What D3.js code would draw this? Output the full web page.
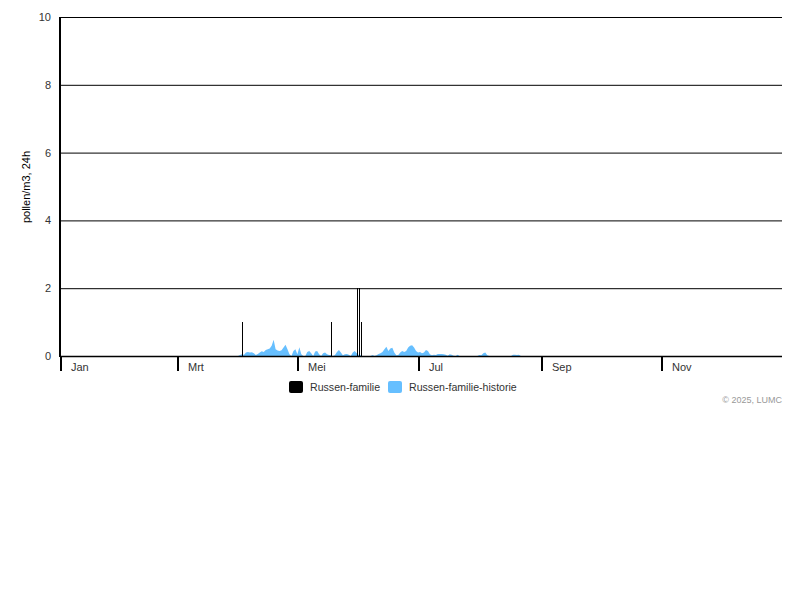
<!DOCTYPE html>
<html><head><meta charset="utf-8">
<script src="https://cdn.jsdelivr.net/npm/d3@7"></script>
<style>body{margin:0;background:#fff;font-family:"Liberation Sans",Arial,sans-serif;}</style>
</head><body><svg id="c" width="800" height="600"></svg>
<script>
const yTicks = [0, 2, 4, 6, 8, 10];
const monthLabels = ["Jan", "Mrt", "Mei", "Jul", "Sep", "Nov"];
const monthTickDates = ["2025-01-01", "2025-03-01", "2025-05-01", "2025-07-01", "2025-09-01", "2025-11-01"];
const seriesNames = ["Russen-familie", "Russen-familie-historie"];
const seriesColors = ["#000000", "#66bfff"];
// current season (daily counts)
const currentDates = ["2025-04-02", "2025-05-17", "2025-05-30", "2025-05-31", "2025-06-01"];
const currentValues = [1, 1, 2, 2, 1];
// historical average, daily values starting at historyStart
const historyStart = "2025-03-30";
const historyValues = [
 0, 0, 0.03, 0.05, 0.04, 0.1, 0.12, 0.1, 0.11, 0.08,
 0.03, 0.06, 0.1, 0.14, 0.12, 0.18, 0.2, 0.22, 0.3, 0.48,
 0.2, 0.16, 0.15, 0.17, 0.25, 0.33, 0.2, 0.05, 0, 0.15,
 0.2, 0.05, 0.26, 0.05, 0, 0, 0.12, 0.15, 0.08, 0,
 0.13, 0.15, 0.05, 0, 0.08, 0.1, 0.05, 0.03, 0.03, 0,
 0.03, 0.12, 0.18, 0.1, 0.02, 0.05, 0.06, 0.04, 0, 0.1,
 0.15, 0.08, 0.03, 0.02, 0, 0, 0, 0, 0, 0.03,
 0, 0.02, 0.06, 0.08, 0.12, 0.2, 0.27, 0.15, 0.22, 0.24,
 0.1, 0.02, 0.03, 0.1, 0.15, 0.12, 0.15, 0.25, 0.3, 0.32,
 0.25, 0.15, 0.1, 0.12, 0.08, 0.1, 0.18, 0.15, 0.05, 0.02,
 0.04, 0.03, 0.06, 0.06, 0.06, 0.05, 0.04, 0.01, 0.05, 0.04,
 0.01, 0, 0.04, 0, 0, 0, 0, 0, 0, 0,
 0, 0, 0, 0.03, 0.02, 0.08, 0.1, 0.02, 0, 0,
 0, 0, 0, 0, 0, 0, 0, 0, 0, 0,
 0.04, 0.04, 0.03, 0.04, 0, 0
];

const svg = d3.select("#c");
const parse = d3.utcParse("%Y-%m-%d");
const day = 864e5;
const x = d3.scaleUtc().domain([parse("2025-01-01"), parse("2026-01-01")]).range([61, 783]);
const y = d3.scaleLinear().domain([0, 10]).range([356, 17]);
const mid = d => new Date(d.getTime() + day / 2);

// gridlines
svg.append("g").selectAll("line").data(yTicks.filter(t => t > 0)).join("line")
  .attr("x1", 60).attr("x2", 782).attr("y1", d => y(d) + 0.5).attr("y2", d => y(d) + 0.5)
  .attr("stroke", "#000").attr("stroke-width", 1);

// y axis labels
svg.append("g").selectAll("text").data(yTicks).join("text")
  .attr("x", 51).attr("y", d => y(d) + 4).attr("text-anchor", "end")
  .attr("font-size", 11).attr("fill", "#333").text(d => d);

svg.append("text").attr("transform", "translate(30,187) rotate(-90)")
  .attr("text-anchor", "middle").attr("font-size", 11).attr("fill", "#000").text("pollen/m3, 24h");

// history area
const hStart = parse(historyStart);
const hist = historyValues.map((v, i) => ({ d: new Date(hStart.getTime() + i * day), v }));
svg.append("path").datum(hist)
  .attr("d", d3.area().x(d => x(mid(d.d))).y0(y(0)).y1(d => y(d.v)))
  .attr("fill", seriesColors[1]);

// current bars
const cur = currentDates.map((d, i) => ({ d: parse(d), v: currentValues[i] }));
svg.append("g").attr("shape-rendering", "crispEdges").selectAll("rect").data(cur).join("rect")
  .attr("x", d => Math.round(x(mid(d.d)))).attr("width", 1)
  .attr("y", d => y(d.v)).attr("height", d => y(0) - y(d.v))
  .attr("fill", seriesColors[0]);

// axes lines
svg.append("line").attr("x1", 60).attr("x2", 60).attr("y1", 17).attr("y2", 357)
  .attr("stroke", "#000").attr("stroke-width", 2);
svg.append("line").attr("x1", 60).attr("x2", 782).attr("y1", 356.5).attr("y2", 356.5)
  .attr("stroke", "#000").attr("stroke-width", 1.5);

// month ticks
const mt = svg.append("g").selectAll("g").data(monthTickDates).join("g")
  .attr("transform", d => `translate(${Math.round(x(parse(d)))},0)`);
mt.append("line").attr("x1", 0).attr("x2", 0).attr("y1", 356).attr("y2", 371)
  .attr("stroke", "#000").attr("stroke-width", 2);
mt.append("text").attr("x", 10).attr("y", 371).attr("font-size", 11).attr("fill", "#333")
  .text((d, i) => monthLabels[i]);

// legend
const lg = svg.append("g");
const lx = [289, 388];
seriesNames.forEach((n, i) => {
  lg.append("rect").attr("x", lx[i]).attr("y", 381).attr("width", 14).attr("height", 12)
    .attr("rx", 2).attr("fill", seriesColors[i]);
  lg.append("text").attr("x", lx[i] + 21).attr("y", 391).attr("font-size", 10.6).attr("fill", "#333").text(n);
});

svg.append("text").attr("x", 782).attr("y", 403).attr("text-anchor", "end")
  .attr("font-size", 9).attr("fill", "#999").text("© 2025, LUMC");
</script></body></html>
